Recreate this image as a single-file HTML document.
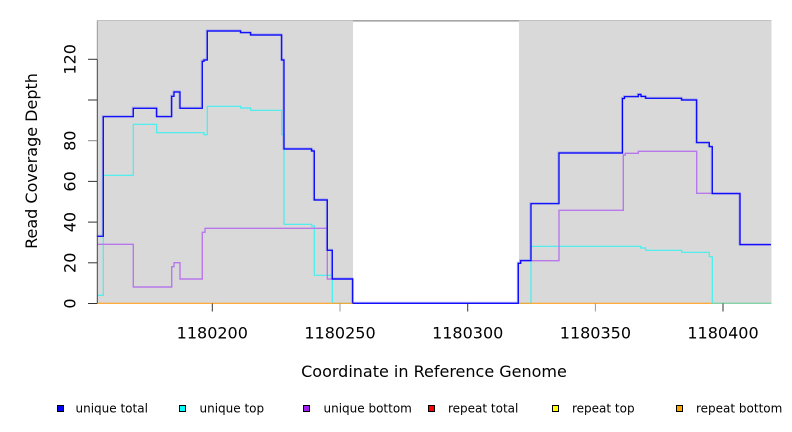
<!DOCTYPE html>
<html>
<head>
<meta charset="utf-8">
<style>
html,body{margin:0;padding:0;background:#fff;}
svg{display:block;}
text{font-family:"DejaVu Sans","Liberation Sans",sans-serif;fill:#000;}
</style>
</head>
<body>
<svg width="792" height="432" viewBox="0 0 792 432" xmlns="http://www.w3.org/2000/svg">
  <!-- plot backgrounds -->
  <rect x="97" y="20.5" width="256" height="283" fill="#d9d9d9"/>
  <rect x="519" y="20.5" width="252.5" height="283" fill="#d9d9d9"/>
  <line x1="97" y1="20.5" x2="771.5" y2="20.5" stroke="#c2c2c2" stroke-width="1"/>
  <line x1="353" y1="21" x2="519" y2="21" stroke="#8c8c8c" stroke-width="1"/>

  <!-- series: unique top (cyan) -->
  <path d="M97,295.3 H103.3 V175.3 H133.3 V124.3 H156.7 V132.7 H204 V134.7 H207.3 V106.3 H240.7 V108 H250.7 V110.3 H281.7 V134.7 H284 V224.3 H311.7 V226 H314.3 V275.3 H332.3 V303.3 H531 V246.3 H640.7 V248 H645.7 V250.3 H681.7 V252.3 H709.3 V256.7 H712.3 V303.3 H771"
        fill="none" stroke="#40f0f0" stroke-width="1.2"/>
  <!-- series: unique bottom (purple) -->
  <path d="M97,244.3 H133.3 V287 H171.7 V266.7 H174 V262.7 H180 V279 H202.3 V232.3 H205 V228.3 H327.3 V279 H352.7 V303.3 H518.3 V263.3 H520.7 V260.7 H559 V210.3 H623.3 V155 H625.3 V153.3 H638.3 V151.3 H696.7 V193.3 H740 V244.7 H771"
        fill="none" stroke="#b878ec" stroke-width="1.4"/>
  <!-- series: unique total (blue) halo -->
  <path d="M97,236.3 H103.3 V116.7 H133.3 V108.3 H156.7 V116.7 H171.7 V96.3 H174 V92 H180 V108.3 H202.3 V61.3 H204 V60 H207.3 V31 H240.7 V32.7 H250.7 V35 H281.7 V60 H284 V149 H311.7 V151 H314.3 V200 H327.3 V250.3 H332.3 V279 H352.7 V303.3 H518.3 V263.3 H520.7 V260.7 H531 V203.7 H559 V153 H622.5 V98.5 H624.5 V96.7 H638.3 V94.5 H641 V96.5 H645.7 V98.3 H681.7 V100 H696.7 V142.7 H709.3 V146.7 H712.3 V193.7 H740 V244.7 H771"
        fill="none" stroke="#7070f4" stroke-width="2.2" opacity="0.5" transform="translate(-0.4,-0.4)"/>
  <path d="M97,236.3 H103.3 V116.7 H133.3 V108.3 H156.7 V116.7 H171.7 V96.3 H174 V92 H180 V108.3 H202.3 V61.3 H204 V60 H207.3 V31 H240.7 V32.7 H250.7 V35 H281.7 V60 H284 V149 H311.7 V151 H314.3 V200 H327.3 V250.3 H332.3 V279 H352.7 V303.3 H518.3 V263.3 H520.7 V260.7 H531 V203.7 H559 V153 H622.5 V98.5 H624.5 V96.7 H638.3 V94.5 H641 V96.5 H645.7 V98.3 H681.7 V100 H696.7 V142.7 H709.3 V146.7 H712.3 V193.7 H740 V244.7 H771"
        fill="none" stroke="#0000ff" stroke-width="1.2"/>
  <!-- repeat bottom (orange) zero line in gray regions -->
  <line x1="97" y1="303.3" x2="352.5" y2="303.3" stroke="#ffa020" stroke-width="1.1"/>
  <line x1="519" y1="303.3" x2="712" y2="303.3" stroke="#ffa020" stroke-width="1.1"/>
  <line x1="712" y1="303.3" x2="771.5" y2="303.3" stroke="#90c890" stroke-width="1"/>

  <!-- y axis -->
  <line x1="97.3" y1="20.5" x2="97.3" y2="59.3" stroke="#9a9a9a" stroke-width="1"/>
  <line x1="97.3" y1="59.3" x2="97.3" y2="303.5" stroke="#444" stroke-width="1"/>
  <g stroke="#333" stroke-width="1">
    <line x1="88" y1="303.5" x2="97" y2="303.5"/>
    <line x1="88" y1="262.8" x2="97" y2="262.8"/>
    <line x1="88" y1="222.1" x2="97" y2="222.1"/>
    <line x1="88" y1="181.4" x2="97" y2="181.4"/>
    <line x1="88" y1="140.7" x2="97" y2="140.7" stroke="#888"/>
    <line x1="88" y1="100" x2="97" y2="100"/>
    <line x1="88" y1="59.3" x2="97" y2="59.3"/>
  </g>
  <g font-size="16" text-anchor="middle">
    <text transform="translate(75.5,303.5) rotate(-90)">0</text>
    <text transform="translate(75.5,262.8) rotate(-90)">20</text>
    <text transform="translate(75.5,222.1) rotate(-90)">40</text>
    <text transform="translate(75.5,181.4) rotate(-90)">60</text>
    <text transform="translate(75.5,140.7) rotate(-90)">80</text>
    <text transform="translate(75.5,59.3) rotate(-90)">120</text>
  </g>
  <text font-size="16" text-anchor="middle" transform="translate(37,161) rotate(-90)">Read Coverage Depth</text>

  <!-- x axis -->
  <g stroke="#333" stroke-width="1">
    <line x1="212.3" y1="303.5" x2="212.3" y2="311.5"/>
    <line x1="340" y1="303.5" x2="340" y2="311.5" stroke="#999"/>
    <line x1="467.7" y1="303.5" x2="467.7" y2="311.5"/>
    <line x1="595.4" y1="303.5" x2="595.4" y2="311.5" stroke="#999"/>
    <line x1="723" y1="303.5" x2="723" y2="311.5"/>
  </g>
  <g font-size="16" text-anchor="middle">
    <text x="212.3" y="338.5">1180200</text>
    <text x="340" y="338.5">1180250</text>
    <text x="467.7" y="338.5">1180300</text>
    <text x="595.4" y="338.5">1180350</text>
    <text x="723" y="338.5">1180400</text>
  </g>
  <text x="434" y="377" font-size="16" text-anchor="middle">Coordinate in Reference Genome</text>

  <!-- legend -->
  <g stroke="#000" stroke-width="1">
    <rect x="57.5" y="405.5" width="6" height="6" fill="#0000ff"/>
    <rect x="179.5" y="405.5" width="6" height="6" fill="#00ffff"/>
    <rect x="303.5" y="405.5" width="6" height="6" fill="#a020f0"/>
    <rect x="428.5" y="405.5" width="6" height="6" fill="#ff0000"/>
    <rect x="552.5" y="405.5" width="6" height="6" fill="#ffff00"/>
    <rect x="676.5" y="405.5" width="6" height="6" fill="#ffa500"/>
  </g>
  <g font-size="12">
    <text x="75.5" y="412.5">unique total</text>
    <text x="199.5" y="412.5">unique top</text>
    <text x="323.5" y="412.5">unique bottom</text>
    <text x="448" y="412.5">repeat total</text>
    <text x="572" y="412.5">repeat top</text>
    <text x="696" y="412.5">repeat bottom</text>
  </g>
</svg>
</body>
</html>
